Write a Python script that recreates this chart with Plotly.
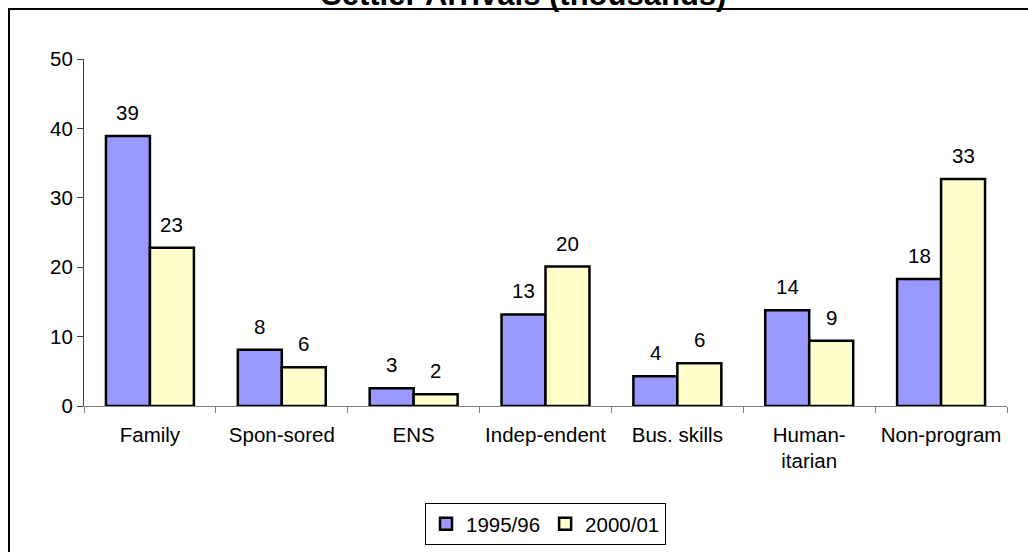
import plotly.graph_objects as go

# Settler arrivals by migration stream, thousands
categories = ["Family", "Spon-sored", "ENS", "Indep-endent", "Bus. skills",
              "Human-<br>itarian", "Non-program"]
arrivals_1995 = [38.9, 8.1, 2.55, 13.2, 4.3, 13.8, 18.3]
arrivals_2000 = [22.8, 5.6, 1.7, 20.1, 6.15, 9.4, 32.7]
series_names = ["1995/96", "2000/01"]

FONT = "Liberation Sans, Arial, sans-serif"
FS = 20.5
W, H = 1028, 552
ML, MR, MT, MB = 84, 21, 59, 146
plot_w = W - ML - MR
plot_h = H - MT - MB
BARGAP = 0.333
bar_px = plot_w / len(categories) * (1 - BARGAP) / 2

def px_x(p):
    return (p - ML) / plot_w

def px_y(p):
    return (H - MB - p) / plot_h

fig = go.Figure()
colors = ["#9999FF", "#FFFFCC"]
for name, vals, col in zip(series_names, [arrivals_1995, arrivals_2000], colors):
    fig.add_trace(go.Bar(
        x=categories, y=vals, name=name,
        marker=dict(color=col, line=dict(color="black", width=2.5)),
        hoverinfo="x+y+name",
    ))

# value labels above each bar
annotations = []
for i, vals in enumerate([arrivals_1995, arrivals_2000]):
    shift = (-0.5 if i == 0 else 0.5) * bar_px
    for c, v in zip(categories, vals):
        annotations.append(dict(
            x=c, y=v, xref="x", yref="y", text=f"{v:.0f}", showarrow=False,
            xshift=shift, yshift=10, yanchor="bottom",
            font=dict(family=FONT, size=FS, color="black"),
        ))

annotations.append(dict(
    x=px_x(523), y=px_y(14), xref="paper", yref="paper",
    text="<b>Settler Arrivals (thousands)</b>", showarrow=False,
    xanchor="center", yanchor="bottom",
    font=dict(family=FONT, size=31, color="black"),
))

fig.update_layout(
    width=W, height=H,
    margin=dict(l=ML, r=MR, t=MT, b=MB, autoexpand=False),
    paper_bgcolor="white", plot_bgcolor="white",
    barmode="group", bargap=BARGAP, bargroupgap=0,
    font=dict(family=FONT, size=FS, color="black"),
    showlegend=True,
    legend=dict(
        orientation="h", x=0.5, xanchor="center", y=px_y(503), yanchor="top",
        bordercolor="black", borderwidth=1, bgcolor="white",
        font=dict(family=FONT, size=FS, color="black"),
        itemwidth=30, tracegroupgap=0,
    ),
    annotations=annotations,
    shapes=[dict(
        type="rect", xref="paper", yref="paper",
        x0=px_x(9), x1=px_x(1038), y0=px_y(620), y1=px_y(9),
        line=dict(color="black", width=2), fillcolor="rgba(0,0,0,0)",
        layer="above",
    )],
)

fig.update_xaxes(
    showline=True, linecolor="#808080", linewidth=1,
    ticks="outside", tickson="boundaries", ticklen=6, tickcolor="#808080",
    tickangle=0, showgrid=False, zeroline=False, ticklabelstandoff=10,
    tickfont=dict(family=FONT, size=FS, color="black"),
)
fig.update_yaxes(
    range=[0, 50], dtick=10, showline=True, linecolor="#404040", linewidth=1,
    ticks="outside", ticklen=6, tickcolor="#404040",
    showgrid=False, zeroline=False,
    tickfont=dict(family=FONT, size=FS, color="black"),
)

fig.write_html("out.html")
